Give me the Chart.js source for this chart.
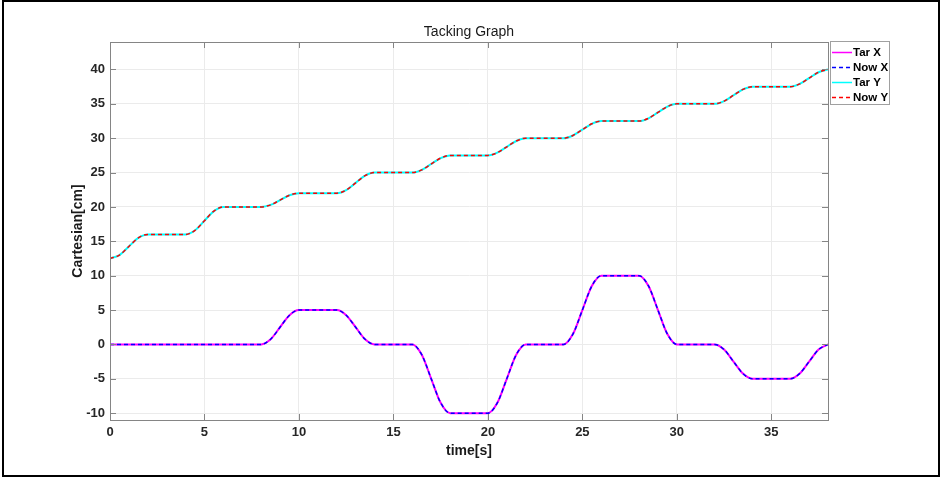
<!DOCTYPE html>
<html>
<head>
<meta charset="utf-8">
<title>Tacking Graph</title>
<script src="https://cdn.jsdelivr.net/npm/chart.js@4.4.0/dist/chart.umd.min.js"></script>
<style>
body{margin:0;background:#fff;}
canvas{display:block;}
</style>
</head>
<body>
<canvas id="chart" width="949" height="478"></canvas>
<script>
const time=[0,0.5,1,1.5,2,2.5,3,3.5,4,4.5,5,5.5,6,6.5,7,7.5,8,8.5,9,9.5,10,10.5,11,11.5,12,12.5,13,13.5,14,14.5,15,15.5,16,16.5,17,17.5,18,18.5,19,19.5,20,20.5,21,21.5,22,22.5,23,23.5,24,24.5,25,25.5,26,26.5,27,27.5,28,28.5,29,29.5,30,30.5,31,31.5,32,32.5,33,33.5,34,34.5,35,35.5,36,36.5,37,37.5,38];
const tarX=[0,
    0,0,0,0, 0,0,0,0, 0,0,0,0, 0,0,0,0,
    0.75,2.5,4.25,5, 5,5,5,5, 4.25,2.5,0.75,0, 0,0,0,0,
    -1.5,-5,-8.5,-10, -10,-10,-10,-10, -8.5,-5,-1.5,0, 0,0,0,0,
    1.5,5,8.5,10, 10,10,10,10, 8.5,5,1.5,0, 0,0,0,0,
    -0.75,-2.5,-4.25,-5, -5,-5,-5,-5, -4.25,-2.5,-0.75,0];
const tarY=[12.5,
    13.0,14.25,15.5,16, 16,16,16,16, 16.6,18,19.4,20, 20,20,20,20,
    20.3,21,21.7,22, 22,22,22,22, 22.45,23.5,24.55,25, 25,25,25,25,
    25.4,26.25,27.1,27.5, 27.5,27.5,27.5,27.5, 27.9,28.75,29.6,30, 30,30,30,30,
    30.4,31.25,32.1,32.5, 32.5,32.5,32.5,32.5, 32.9,33.75,34.6,35, 35,35,35,35,
    35.4,36.25,37.1,37.5, 37.5,37.5,37.5,37.5, 37.9,38.75,39.6,40];
// the measured position follows the target with no visible error
const nowX=tarX.slice();
const nowY=tarY.slice();
const xTicks=[0,5,10,15,20,25,30,35];
const yTicks=[-10,-5,0,5,10,15,20,25,30,35,40];
const names=["Tar X","Now X","Tar Y","Now Y"];

const FONT='"Liberation Sans", Arial, sans-serif';
const pts=vals=>vals.map((v,i)=>({x:time[i],y:v}));

const frame={
    id:'frame',
    beforeDraw(chart){
        const c=chart.ctx;
        c.save();
        c.fillStyle='#fff';
        c.fillRect(0,0,chart.width,chart.height);
        c.restore();
    },
    afterDraw(chart){
        const c=chart.ctx, a=chart.chartArea, xs=chart.scales.x, ys=chart.scales.y;
        c.save();
        // axes box + inward ticks
        c.strokeStyle='#858585';
        c.lineWidth=1;
        c.strokeRect(a.left+0.5,a.top+0.5,a.right-a.left,a.bottom-a.top);
        c.beginPath();
        xTicks.forEach(v=>{
            const px=Math.round(xs.getPixelForValue(v))+0.5;
            c.moveTo(px,a.bottom); c.lineTo(px,a.bottom-6);
            c.moveTo(px,a.top); c.lineTo(px,a.top+6);
        });
        yTicks.forEach(v=>{
            const py=Math.round(ys.getPixelForValue(v))+0.5;
            c.moveTo(a.left,py); c.lineTo(a.left+6,py);
            c.moveTo(a.right,py); c.lineTo(a.right-6,py);
        });
        c.stroke();

        // title and axis titles
        c.fillStyle='#1a1a1a';
        c.textAlign='center';
        c.textBaseline='middle';
        c.font='14px '+FONT;
        c.fillText('Tacking Graph',(a.left+a.right)/2,32);
        c.font='bold 14px '+FONT;
        c.fillText('time[s]',(a.left+a.right)/2,451);
        c.save();
        c.translate(78,(a.top+a.bottom)/2);
        c.rotate(-Math.PI/2);
        c.fillText('Cartesian[cm]',0,0);
        c.restore();

        // legend outside the plot, top right
        c.fillStyle='#fff';
        c.fillRect(830,41,60,64);
        c.strokeStyle='#a0a0a0';
        c.strokeRect(830.5,41.5,59,63);
        c.font='bold 11.5px '+FONT;
        c.textAlign='left';
        chart.data.datasets.forEach((ds,i)=>{
            const y=Math.round(52+i*15)+0.5;
            c.strokeStyle=ds.borderColor;
            c.lineWidth=1.5;
            c.setLineDash(ds.borderDash||[]);
            c.beginPath(); c.moveTo(832,y); c.lineTo(852,y); c.stroke();
            c.setLineDash([]);
            c.fillStyle='#000';
            c.fillText(ds.label,853,y);
        });

        // figure border
        c.strokeStyle='#000';
        c.lineWidth=2;
        c.strokeRect(3,1,936,475);
        c.restore();
    }
};

new Chart(document.getElementById('chart'),{
    type:'line',
    data:{
        datasets:[
            {label:names[0],data:pts(tarX),borderColor:'#ff00ff',borderWidth:2,order:1},
            {label:names[1],data:pts(nowX),borderColor:'#0000ff',borderWidth:1.5,borderDash:[4,3],order:0},
            {label:names[2],data:pts(tarY),borderColor:'#00ffff',borderWidth:2,order:1},
            {label:names[3],data:pts(nowY),borderColor:'#ff0000',borderWidth:1.5,borderDash:[4,3],order:0}
        ]
    },
    options:{
        responsive:false,
        animation:false,
        devicePixelRatio:1,
        layout:{padding:{left:0,top:42,right:121,bottom:0}},
        elements:{point:{radius:0},line:{cubicInterpolationMode:'monotone',fill:false}},
        plugins:{legend:{display:false},tooltip:{enabled:false}},
        scales:{
            x:{
                type:'linear',min:0,max:38,
                afterBuildTicks:s=>{s.ticks=xTicks.map(v=>({value:v}));},
                afterFit:s=>{s.height=58;},
                grid:{color:'#ebebeb',drawTicks:false},
                border:{color:'#858585'},
                ticks:{autoSkip:false,maxRotation:0,padding:5,color:'#262626',font:{family:FONT,size:13,weight:'bold'}}
            },
            y:{
                type:'linear',min:-11,max:44,
                afterBuildTicks:s=>{s.ticks=yTicks.map(v=>({value:v}));},
                afterFit:s=>{s.width=110;},
                grid:{color:'#ebebeb',drawTicks:false},
                border:{color:'#858585'},
                ticks:{autoSkip:false,padding:5,color:'#262626',font:{family:FONT,size:13,weight:'bold'}}
            }
        }
    },
    plugins:[frame]
});
</script>
</body>
</html>
